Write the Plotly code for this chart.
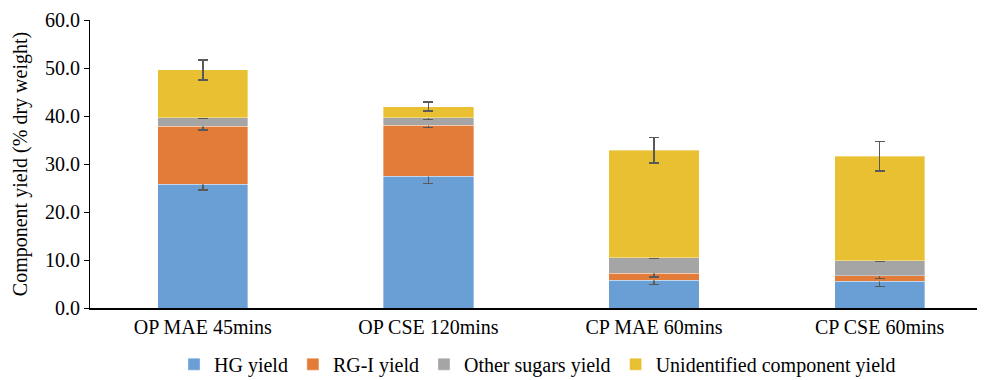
import plotly.graph_objects as go

categories = ["OP MAE 45mins", "OP CSE 120mins", "CP MAE 60mins", "CP CSE 60mins"]
series_names = ["HG yield", "RG-I yield", "Other sugars yield", "Unidentified component yield"]
hg = [25.8, 27.4, 5.8, 5.55]
rg = [12.05, 10.65, 1.45, 1.2]
other = [1.8, 1.6, 3.25, 3.1]
unid = [9.95, 2.3, 22.4, 21.75]
hg_err = [1.25, 1.5, 0.9, 1.1]
rg_err = [0.8, 0.45, 0.8, 0.6]
other_err = [0.2, 0.35, 0.2, 0.2]
unid_err = [2.1, 0.95, 2.65, 3.1]
colors = ["#699FD4", "#E27C38", "#A5A5A5", "#E9C031"]

font = "Liberation Serif, Times New Roman, serif"
fs = 20
fig = go.Figure()
for name, vals, errs, col in zip(series_names, [hg, rg, other, unid],
                                 [hg_err, rg_err, other_err, unid_err], colors):
    fig.add_trace(go.Bar(
        x=categories, y=vals, name=name,
        marker=dict(color=col, line=dict(color="rgba(255,255,255,0.6)", width=0.6)),
        width=0.4,
        error_y=dict(type="data", array=errs, visible=True, color="#595959",
                     thickness=1.5, width=5),
    ))

# page body has an 8px default margin; figure is sized to fit the 985x380 window
fig.update_layout(
    barmode="stack",
    width=977, height=372,
    margin=dict(l=82, r=0, t=12, b=72, autoexpand=False),
    plot_bgcolor="white", paper_bgcolor="white",
    font=dict(family=font, size=fs, color="black"),
    showlegend=True,
    legend=dict(orientation="h", x=0.50, xanchor="center", y=-0.195, yanchor="middle",
                font=dict(family=font, size=fs, color="black"),
                itemwidth=30, traceorder="normal"),
)
fig.update_xaxes(
    type="category", range=[-0.5, 3.467], automargin=False,
    showline=True, linecolor="black", linewidth=2,
    ticks="", showgrid=False,
    tickfont=dict(family=font, size=fs, color="black"),
)
fig.update_yaxes(
    range=[0, 60], dtick=10, tickformat=".1f", automargin=False,
    showline=True, linecolor="black", linewidth=1,
    ticks="outside", ticklen=5, tickcolor="black",
    showgrid=False, zeroline=False,
    title=dict(text="Component yield (% dry weight)", font=dict(family=font, size=fs, color="black"), standoff=12),
    tickfont=dict(family=font, size=fs, color="black"),
)
fig.write_html("out.html")
